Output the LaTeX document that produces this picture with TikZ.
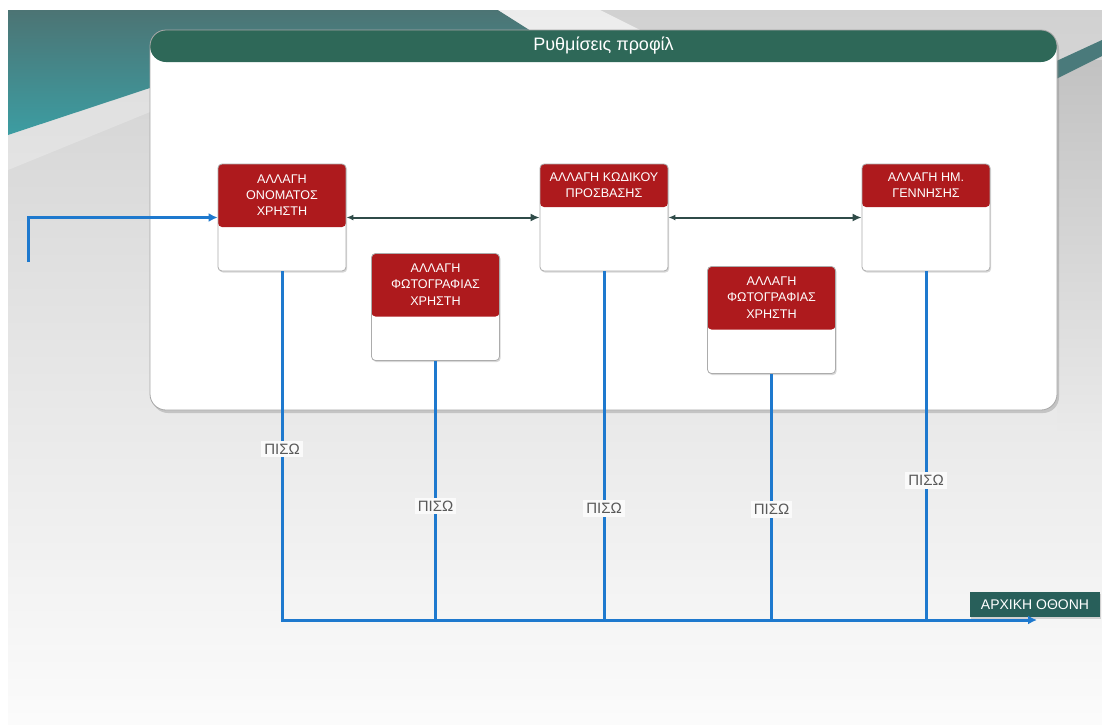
\documentclass[tikz,border=0pt]{standalone}
\usepackage{fontspec}
\setmainfont{Liberation Sans}
\usepackage{tikz}
\usetikzlibrary{positioning,arrows.meta,shadows}
\definecolor{cardred}{HTML}{AE1A1D}
\definecolor{barteal}{HTML}{2E6858}
\definecolor{bandteal}{HTML}{4C7474}
\definecolor{bandcyan}{HTML}{3C9DA2}
\definecolor{linkblue}{HTML}{1E79CE}
\definecolor{slate}{HTML}{2F4B48}
\definecolor{hometeal}{HTML}{285F5A}
\tikzstyle{panel} = [rectangle, rounded corners=8pt, draw=gray!70, fill=white,
    minimum width=453.5pt, minimum height=190pt,
    drop shadow={shadow xshift=1pt, shadow yshift=-1.5pt, opacity=0.35},
    path picture={
        \fill[barteal] (path picture bounding box.north west) rectangle
            ([yshift=-16pt]path picture bounding box.north east);
    }]
\tikzstyle{card} = [rectangle, rounded corners=2pt, draw=gray!65, fill=white,
    minimum width=64pt, minimum height=53.5pt,
    drop shadow={shadow xshift=0.6pt, shadow yshift=-0.8pt, opacity=0.3}]
\tikzstyle{tallhead} = [card, path picture={
        \fill[cardred] (path picture bounding box.north west) rectangle
            ([yshift=-31.5pt]path picture bounding box.north east);
    }]
\tikzstyle{shorthead} = [card, path picture={
        \fill[cardred] (path picture bounding box.north west) rectangle
            ([yshift=-21.5pt]path picture bounding box.north east);
    }]
\tikzstyle{headtext} = [text=white, align=center, inner sep=0pt, font=\fontsize{6.3}{8.2}\selectfont]
\tikzstyle{backlabel} = [fill=gray!4, text=gray!70!black, inner sep=1.5pt, font=\fontsize{7.5}{9}\selectfont]
\tikzstyle{homebox} = [rectangle, fill=hometeal, text=white, minimum width=65pt, minimum height=12.5pt,
    font=\fontsize{7}{8}\selectfont, drop shadow={shadow xshift=0.6pt, shadow yshift=-0.8pt, opacity=0.3}]
\tikzstyle{bus} = [line width=1.5pt, linkblue]
\tikzstyle{flow} = [bus, -{Latex[length=4.5pt,width=4.5pt]}]
\tikzstyle{twoway} = [line width=1pt, slate, {Latex[length=3.5pt,width=3pt]}-{Latex[length=4.5pt,width=4pt]}]

\begin{document}
\begin{tikzpicture}[x=0.5pt, y=-0.5pt]
    \useasboundingbox (0,0) rectangle (1102,724);

    % Background
    \fill[white] (0,0) rectangle (1102,724);
    \shade[top color=gray!36, bottom color=gray!3] (8,10) rectangle (1102,724);
    \shade[top color=gray!48, bottom color=gray!17] (1057,60) rectangle (1102,430);
    \shade[top color=bandteal, bottom color=bandcyan]
        (8,10) -- (498,10) -- (545,40) -- (150,88) -- (8,135) -- cycle;
    \fill[white, opacity=0.6] (498,10) -- (600,10) -- (640,30) -- (530,30) -- cycle;
    \fill[white, opacity=0.25] (8,135) -- (150,88) -- (150,112) -- (8,170) -- cycle;
    \fill[bandteal!85!bandcyan] (1050,64) -- (1102,40) -- (1102,56) -- (1050,82) -- cycle;

    % Nodes
    \node (panel) [panel] at (603.5,220) {};
    \node (title) [text=white, font=\fontsize{9}{10}\selectfont] at ([yshift=-8pt]panel.north) {Ρυθμίσεις προφίλ};

    \node (c1) [tallhead] at (282,217.5) {};
    \node (c2) [tallhead] at (435.5,307) {};
    \node (c3) [shorthead] at (604,217.5) {};
    \node (c4) [tallhead] at (771.5,320) {};
    \node (c5) [shorthead] at (926,217.5) {};

    \node (c1t) [headtext] at ([yshift=-15.75pt]c1.north) {ΑΛΛΑΓΗ\\ΟΝΟΜΑΤΟΣ\\ΧΡΗΣΤΗ};
    \node (c2t) [headtext] at ([yshift=-15.75pt]c2.north) {ΑΛΛΑΓΗ\\ΦΩΤΟΓΡΑΦΙΑΣ\\ΧΡΗΣΤΗ};
    \node (c3t) [headtext] at ([yshift=-10.75pt]c3.north) {ΑΛΛΑΓΗ ΚΩΔΙΚΟΥ\\ΠΡΟΣΒΑΣΗΣ};
    \node (c4t) [headtext] at ([yshift=-15.75pt]c4.north) {ΑΛΛΑΓΗ\\ΦΩΤΟΓΡΑΦΙΑΣ\\ΧΡΗΣΤΗ};
    \node (c5t) [headtext] at ([yshift=-10.75pt]c5.north) {ΑΛΛΑΓΗ ΗΜ.\\ΓΕΝΝΗΣΗΣ};

    \node (home) [homebox] at (1035,604.5) {ΑΡΧΙΚΗ ΟΘΟΝΗ};
    \coordinate (entry) at (28,262);
    \coordinate (busend) at (1037,620);

    % Arrows
    \draw [twoway] (c1) -- (c3);
    \draw [twoway] (c3) -- (c5);
    \draw [flow] (entry) |- (c1);

    \draw [flow] (c1) -- node[backlabel, pos=.51] (back1) {ΠΙΣΩ} (c1 |- busend) -- (busend);
    \draw [bus] (c2) -- node[backlabel, pos=.56] (back2) {ΠΙΣΩ} (c2 |- busend);
    \draw [bus] (c3) -- node[backlabel, pos=.68] (back3) {ΠΙΣΩ} (c3 |- busend);
    \draw [bus] (c4) -- node[backlabel, pos=.55] (back4) {ΠΙΣΩ} (c4 |- busend);
    \draw [bus] (c5) -- node[backlabel, pos=.60] (back5) {ΠΙΣΩ} (c5 |- busend);
\end{tikzpicture}
\end{document}
